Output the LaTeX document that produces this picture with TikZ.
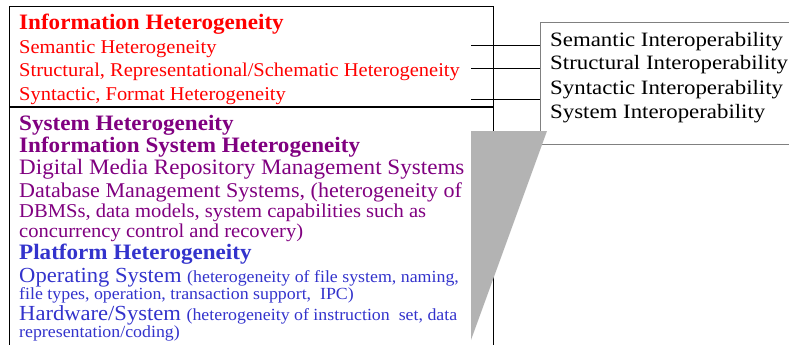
\documentclass[tikz,border=0pt]{standalone}
\usepackage{fontspec}
\setmainfont{Liberation Serif}[FakeStretch=1.05]
\newfontfamily\wideserif{Liberation Serif}[FakeStretch=1.12]
\definecolor{hred}{HTML}{FF0000}
\definecolor{hpurple}{HTML}{800080}
\definecolor{hblue}{HTML}{3333CC}
\definecolor{tri}{HTML}{B3B3B3}
\definecolor{rborder}{HTML}{808080}
\begin{document}
\begin{tikzpicture}[x=1pt,y=-1pt,
  txt/.style={anchor=base west,inner sep=0pt},
  head/.style={txt,font=\fontsize{22}{22}\selectfont\bfseries},
  sub/.style={txt,font=\fontsize{19.5}{19.5}\selectfont},
  big/.style={txt,font=\fontsize{21.5}{21.5}\selectfont},
  mid/.style={txt,font=\fontsize{19.6}{19.6}\selectfont},
  small/.style={font=\fontsize{17}{17}\selectfont},
  rtxt/.style={txt,font=\wideserif\fontsize{20.4}{20.4}\selectfont},
  link/.style={draw=black,line width=0.8pt}]
\useasboundingbox (0,0) rectangle (789,345);
% left box
\draw[line width=0.8pt] (9,107) -- (9,6) -- (493,6) -- (493,107);
\draw[line width=0.8pt] (9,107) -- (9,350);
\draw[line width=0.8pt] (493,107) -- (493,350);
\draw[line width=1.6pt] (9,107) -- (493,107);
% right box
\node (rbox) [draw=rborder,line width=0.8pt,minimum width=260pt,minimum height=122pt,inner sep=0pt] at (670,83) {};
% top section
\node (ih) [head,text=hred] at (19,30) {Information Heterogeneity};
\node (sh) [sub,text=hred] at (19,54) {Semantic Heterogeneity};
\node (sth) [sub,text=hred] at (19,77) {Structural, Representational/Schematic Heterogeneity};
\node (syh) [sub,text=hred] at (19,100) {Syntactic, Format Heterogeneity};
% bottom section
\node (sysh) [head,text=hpurple] at (19,130) {System Heterogeneity};
\node (ish) [head,text=hpurple] at (19,152) {Information System Heterogeneity};
\node (dm) [txt,font=\fontsize{22}{22}\selectfont,text=hpurple] at (19,174) {Digital Media Repository Management Systems};
\node (db) [txt,font=\fontsize{21}{21}\selectfont,text=hpurple] at (19,197) {Database Management Systems, (heterogeneity of};
\node (db2) [mid,text=hpurple] at (19,217) {DBMSs, data models, system capabilities such as};
\node (db3) [mid,text=hpurple] at (19,237) {concurrency control and recovery)};
\node (ph) [head,text=hblue] at (19,259) {Platform Heterogeneity};
\node (os) [big,text=hblue] at (19,282) {Operating System {\fontsize{17}{17}\selectfont(heterogeneity of file system, naming,}};
\node (os2) [txt,small,text=hblue] at (19,299) {file types, operation, transaction support,\ \ IPC)};
\node (hw) [big,text=hblue] at (19,320) {Hardware/System {\fontsize{17}{17}\selectfont(heterogeneity of instruction\ \ set, data}};
\node (hw2) [txt,small,text=hblue] at (19,337) {representation/coding)};
% right texts
\node (si) [rtxt] at (550,47) {Semantic Interoperability};
\node (sti) [rtxt] at (550,70) {Structural Interoperability};
\node (syi) [rtxt] at (550,94) {Syntactic Interoperability};
\node (sysi) [rtxt] at (550,118) {System Interoperability};
% connectors
\coordinate (c1) at (471,45);
\coordinate (c2) at (471,68);
\coordinate (c3) at (471,99);
\draw[link] (c1) -- (c1 -| rbox.west);
\draw[link] (c2) -- (c2 -| rbox.west);
\draw[link] (c3) -- (c3 -| rbox.west);
% triangle
\fill[tri] (471,131) -- (547,131) -- (471,340) -- cycle;
\end{tikzpicture}
\end{document}
